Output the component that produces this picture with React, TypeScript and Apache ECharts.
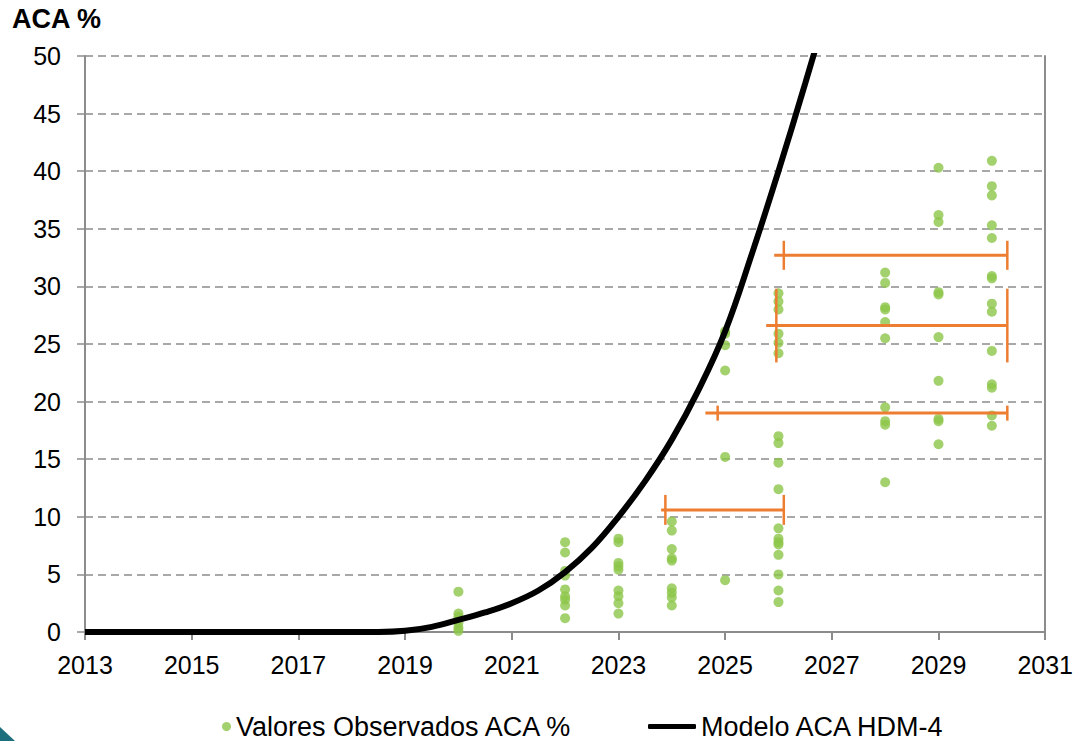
import React, { useEffect, useRef } from "react";
import * as echarts from "echarts";

// Year axis is plotted as offset from the first year so ticks land on odd years.
const X0 = 2013;
const X_MAX = 2031;
const yTicks = { min: 0, max: 50, interval: 5 };

// Observed ACA % per survey year
const obsYears = [2020, 2022, 2023, 2024, 2025, 2026, 2028, 2029, 2030];
const obsValues: number[][] = [
  [3.5, 1.6, 1.3, 0.8, 0.4, 0.1],
  [7.8, 6.9, 5.3, 4.9, 3.7, 3.1, 2.8, 2.3, 1.2],
  [8.1, 7.8, 6.0, 5.7, 5.4, 3.6, 3.1, 2.5, 1.6],
  [9.6, 8.8, 7.2, 6.4, 6.2, 3.8, 3.4, 3.0, 2.3],
  [26.1, 25.9, 24.9, 22.7, 15.2, 4.5],
  [29.4, 28.7, 28.0, 25.9, 25.1, 24.2, 17.0, 16.4, 14.7, 12.4, 9.0, 8.1, 7.8, 7.6, 6.7, 5.0, 3.6, 2.6],
  [31.2, 30.3, 28.2, 28.0, 26.9, 25.5, 19.5, 18.3, 18.0, 13.0],
  [40.3, 36.2, 35.6, 29.5, 29.3, 25.6, 21.8, 18.5, 18.3, 16.3],
  [40.9, 38.7, 37.9, 35.3, 34.2, 30.9, 30.7, 28.5, 27.8, 24.4, 21.5, 21.2, 18.8, 17.9],
];

// HDM-4 model curve
const modelYears = [
  2013, 2014, 2015, 2016, 2017, 2018, 2018.5, 2019, 2019.5, 2020, 2020.5, 2021, 2021.5,
  2022, 2022.5, 2023, 2023.5, 2024, 2024.5, 2025, 2025.5, 2026, 2026.5, 2027,
];
const modelValues = [
  0, 0, 0, 0, 0, 0, 0, 0.1, 0.45, 1.05, 1.7, 2.5, 3.6,
  5.2, 7.3, 10.0, 13.1, 16.7, 21.0, 26.1, 32.8, 40.0, 47.6, 55.5,
];

// Horizontal range bars: level, line start, left cap, right cap, cap half-height
const rangeLevel = [10.6, 19.0, 26.6, 32.7];
const rangeStart = [2023.8, 2024.63, 2025.77, 2025.92];
const rangeLeftCap = [2023.88, 2024.86, 2025.96, 2026.1];
const rangeRightCap = [2026.1, 2030.29, 2030.29, 2030.29];
const rangeCapHalf = [1.3, 0.65, 3.2, 1.26];

const FONT = "'Liberation Sans', Arial, sans-serif";
const GRAY = "#8c8c8c";

export default function App() {
  const ref = useRef<HTMLDivElement>(null);

  useEffect(() => {
    if (!ref.current) return;
    const chart = echarts.init(ref.current, undefined, { renderer: "svg" });

    const scatterData: number[][] = [];
    obsYears.forEach((yr, i) => {
      obsValues[i].forEach((v) => scatterData.push([yr - X0, v]));
    });
    const modelData = modelYears.map((yr, i) => [yr - X0, modelValues[i]]);
    const rangeData = rangeLevel.map((lv, i) => [
      lv,
      rangeStart[i] - X0,
      rangeLeftCap[i] - X0,
      rangeRightCap[i] - X0,
      rangeCapHalf[i],
    ]);

    const option: any = {
      animation: false,
      backgroundColor: "#ffffff",
      title: {
        text: "ACA %",
        left: 12,
        top: 5,
        padding: 0,
        textStyle: { fontFamily: FONT, fontSize: 27, fontWeight: "bold", color: "#000" },
      },
      grid: { left: 85, right: 30, top: 56, bottom: 109, containLabel: false },
      legend: [
        {
          data: ["Valores Observados ACA %"],
          left: 222,
          top: 713,
          padding: 0,
          icon: "circle",
          itemWidth: 9,
          itemHeight: 9,
          textStyle: { fontFamily: FONT, fontSize: 27, color: "#000" },
        },
        {
          data: ["Modelo ACA HDM-4"],
          left: 648,
          top: 713,
          padding: 0,
          icon: "roundRect",
          itemWidth: 48,
          itemHeight: 5,
          textStyle: { fontFamily: FONT, fontSize: 27, color: "#000" },
        },
      ],
      xAxis: {
        type: "value",
        min: 0,
        max: X_MAX - X0,
        interval: 2,
        axisLine: { show: true, lineStyle: { color: GRAY, width: 2 } },
        axisTick: { show: true, length: 8, lineStyle: { color: GRAY, width: 2 } },
        axisLabel: {
          margin: 20,
          fontFamily: FONT,
          fontSize: 25,
          color: "#000",
          formatter: (v: number) => String(v + X0),
        },
        splitLine: { show: false },
      },
      yAxis: [
        {
          type: "value",
          min: yTicks.min,
          max: yTicks.max,
          interval: yTicks.interval,
          axisLine: { show: true, lineStyle: { color: GRAY, width: 2 } },
          axisTick: { show: true, length: 8, lineStyle: { color: GRAY, width: 1.5 } },
          axisLabel: { margin: 24, fontFamily: FONT, fontSize: 25, color: "#000" },
          splitLine: { show: true, lineStyle: { color: GRAY, width: 1.5, type: [8, 5] } },
        },
        {
          type: "value",
          position: "right",
          min: yTicks.min,
          max: yTicks.max,
          interval: yTicks.interval,
          axisLine: { show: true, lineStyle: { color: GRAY, width: 2 } },
          axisTick: { show: false },
          axisLabel: { show: false },
          splitLine: { show: false },
        },
      ],
      series: [
        {
          name: "Valores Observados ACA %",
          type: "scatter",
          z: 2,
          symbol: "circle",
          symbolSize: 10,
          itemStyle: { color: "#8cc548" },
          data: scatterData,
        },
        {
          name: "Modelo ACA HDM-4",
          type: "line",
          z: 3,
          showSymbol: false,
          symbol: "none",
          smooth: 0.4,
          clip: true,
          lineStyle: { color: "#000", width: 6 },
          itemStyle: { color: "#000" },
          data: modelData,
        },
        {
          type: "custom",
          z: 4,
          clip: false,
          encode: { x: [1, 2, 3], y: 0 },
          data: rangeData,
          renderItem: (_params: any, api: any) => {
            const lv = api.value(0);
            const start = api.coord([api.value(1), lv]);
            const left = api.coord([api.value(2), lv]);
            const right = api.coord([api.value(3), lv]);
            const half = api.value(4);
            const top = api.coord([api.value(2), lv + half])[1];
            const bottom = api.coord([api.value(2), lv - half])[1];
            const stroke = { stroke: "#ed7d31", lineWidth: 3 };
            const capStroke = { stroke: "#ed7d31", lineWidth: 2.5 };
            return {
              type: "group",
              children: [
                { type: "line", shape: { x1: start[0], y1: start[1], x2: right[0], y2: right[1] }, style: stroke },
                { type: "line", shape: { x1: left[0], y1: top, x2: left[0], y2: bottom }, style: capStroke },
                { type: "line", shape: { x1: right[0], y1: top, x2: right[0], y2: bottom }, style: capStroke },
              ],
            };
          },
        },
      ],
      graphic: [
        {
          type: "polygon",
          shape: { points: [[0, 727], [15, 741], [0, 741]] },
          style: { fill: "#1d6f7d" },
        },
      ],
    };

    chart.setOption(option);
    return () => chart.dispose();
  }, []);

  return (
    <div
      ref={ref}
      style={{ position: "fixed", left: 0, top: 0, width: 1076, height: 741 }}
    />
  );
}
